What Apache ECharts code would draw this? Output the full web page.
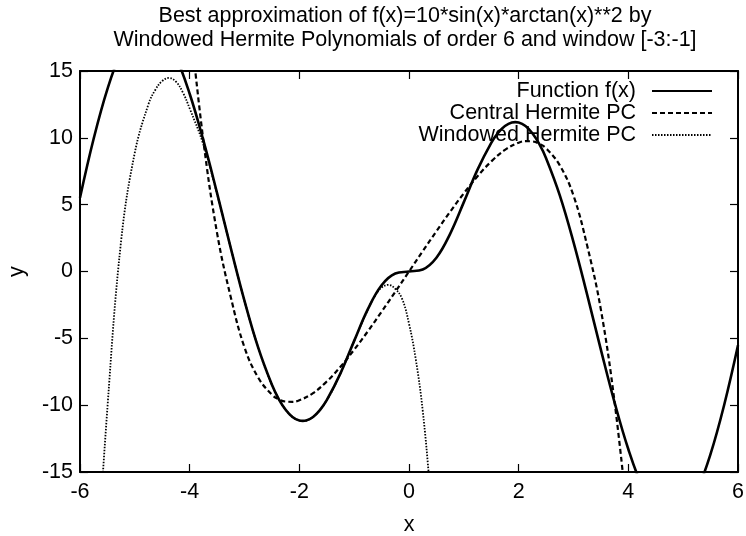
<!DOCTYPE html>
<html>
<head>
<meta charset="utf-8">
<title>Windowed Hermite approximation</title>
<script src="https://cdn.jsdelivr.net/npm/echarts@6/dist/echarts.min.js"></script>
<style>
  html, body { margin: 0; padding: 0; background: #ffffff; }
  #chart { width: 746px; height: 536px; }
</style>
</head>
<body>
<div id="chart"></div>
<script>
// f(x) = 10*sin(x)*arctan(x)**2 sampled on [-6, 6], denser around the extrema
const fX = [-6, -5.75, -5.5, -5.25, -5, -4.75, -4.5, -4.25, -4, -3.75, -3.5, -3.25, -3, -2.75, -2.5, -2.375, -2.25, -2.125, -2, -1.9375, -1.875, -1.75, -1.625, -1.5, -1.25, -1, -0.75, -0.5, -0.25,
  0, 0.25, 0.5, 0.75, 1, 1.25, 1.5, 1.625, 1.75, 1.875, 1.9375, 2, 2.125, 2.25, 2.375, 2.5, 2.75, 3, 3.25, 3.5, 3.75, 4, 4.25, 4.5, 4.75, 5, 5.25, 5.5, 5.75, 6];
const fY = [5.52, 9.95, 13.65, 16.42, 18.09, 18.57, 17.87, 16.06, 13.30, 9.81, 5.86, 1.75, -2.20, -5.70, -8.48, -9.54, -10.34, -10.88, -11.15, -11.175, -11.15, -10.88, -10.37, -9.63, -7.62, -5.19, -2.82, -1.03, -0.15,
  0, 0.15, 1.03, 2.82, 5.19, 7.62, 9.63, 10.37, 10.88, 11.15, 11.175, 11.15, 10.88, 10.34, 9.54, 8.48, 5.70, 2.20, -1.75, -5.86, -9.81, -13.30, -16.06, -17.87, -18.57, -18.09, -16.42, -13.65, -9.95, -5.52];

// Central Hermite polynomial chaos approximation
const centralX = [-4, -3.75, -3.5, -3.25, -3, -2.75, -2.5, -2.375, -2.25, -2.125, -2, -1.75, -1.5, -1.25, -1, -0.75, -0.5, -0.25,
  0, 0.25, 0.5, 0.75, 1, 1.25, 1.5, 1.75, 2, 2.125, 2.25, 2.375, 2.5, 2.75, 3, 3.25, 3.5, 3.75, 4];
const centralY = [18.97, 9.79, 2.87, -1.92, -5.68, -7.94, -9.22, -9.56, -9.73, -9.75, -9.64, -9.10, -8.23, -7.13, -5.85, -4.47, -3.01, -1.52,
  0, 1.52, 3.01, 4.47, 5.85, 7.13, 8.23, 9.10, 9.64, 9.75, 9.73, 9.56, 9.22, 7.94, 5.68, 1.92, -2.87, -9.79, -18.97];

// Windowed Hermite polynomial chaos approximation, window [-3:-1]
const windowedX = [-5.75, -5.5, -5.25, -5, -4.75, -4.625, -4.5, -4.375, -4.25, -4.125, -4, -3.75, -3.5, -3.25, -3, -2.75, -2.5, -2.25, -2, -1.9375, -1.75, -1.5, -1.25, -1,
  -0.75, -0.625, -0.5, -0.375, -0.25, -0.125, 0, 0.125, 0.25, 0.375, 0.5];
const windowedY = [-26, -10.2, 2.3, 8.9, 12.54, 13.6, 14.25, 14.48, 14.2, 13.4, 12.2, 9.5, 5.8, 1.75, -2.20, -5.70, -8.48, -10.34, -11.15, -11.175, -10.88, -9.63, -7.62, -5.19,
  -2.85, -1.85, -1.2, -1.0, -1.3, -2.05, -3.9, -6.6, -10.4, -15.9, -22.5];

const xTicks = [-6, -4, -2, 0, 2, 4, 6];
const yTicks = [-15, -10, -5, 0, 5, 10, 15];

const seriesNames = ['Function f(x)', 'Central Hermite PC', 'Windowed Hermite PC'];
const titleText = 'Best approximation of f(x)=10*sin(x)*arctan(x)**2 by\nWindowed Hermite Polynomials of order 6 and window [-3:-1]';

const FONT = '"Liberation Sans", Arial, Helvetica, sans-serif';
const FS = 21.5;

function pairs(xs, ys) { return xs.map((x, i) => [x, ys[i]]); }

const chart = echarts.init(document.getElementById('chart'), null, { renderer: 'canvas' });

const tickCommon = { show: true, inside: true, length: 8, lineStyle: { color: '#000', width: 1.2 } };
const lineCommon = { show: true, onZero: false, lineStyle: { color: '#000', width: 2 } };

function legendFor(name, top) {
  return {
    data: [name],
    right: 33,
    top: top,
    align: 'right',
    orient: 'horizontal',
    itemWidth: 60,
    itemHeight: 14,
    padding: 0,
    selectedMode: false,
    itemStyle: { color: 'rgba(0,0,0,0)', borderWidth: 0, opacity: 0 },
    textStyle: { fontFamily: FONT, fontSize: FS, color: '#000', padding: [0, 11, 0, 0] }
  };
}

chart.setOption({
  backgroundColor: '#ffffff',
  animation: false,
  title: {
    text: titleText,
    left: 405,
    top: 4,
    textAlign: 'center',
    padding: 0,
    textStyle: { fontFamily: FONT, fontSize: FS, fontWeight: 'normal', color: '#000', lineHeight: 24 }
  },
  legend: [legendFor(seriesNames[0], 80), legendFor(seriesNames[1], 102), legendFor(seriesNames[2], 124)],
  grid: { left: 80, right: 8, top: 71, bottom: 64, show: false, containLabel: false, outerBoundsMode: 'none' },
  xAxis: [
    {
      type: 'value', min: -6, max: 6, interval: 2, position: 'bottom',
      name: 'x', nameLocation: 'middle', nameGap: 42,
      nameTextStyle: { fontFamily: FONT, fontSize: FS, color: '#000' },
      axisLine: lineCommon, axisTick: tickCommon, splitLine: { show: false },
      axisLabel: { fontFamily: FONT, fontSize: FS, color: '#000', margin: 9,
        formatter: v => (xTicks.indexOf(v) >= 0 ? String(v) : '') }
    },
    {
      type: 'value', min: -6, max: 6, interval: 2, position: 'top',
      axisLine: lineCommon, axisTick: tickCommon, splitLine: { show: false }, axisLabel: { show: false }
    }
  ],
  yAxis: [
    {
      type: 'value', min: -15, max: 15, interval: 5, position: 'left',
      name: 'y', nameLocation: 'middle', nameGap: 52,
      nameTextStyle: { fontFamily: FONT, fontSize: FS, color: '#000' },
      axisLine: lineCommon, axisTick: tickCommon, splitLine: { show: false },
      axisLabel: { fontFamily: FONT, fontSize: FS, color: '#000', margin: 7,
        formatter: v => (yTicks.indexOf(v) >= 0 ? String(v) : '') }
    },
    {
      type: 'value', min: -15, max: 15, interval: 5, position: 'right',
      axisLine: lineCommon, axisTick: tickCommon, splitLine: { show: false }, axisLabel: { show: false }
    }
  ],
  series: [
    {
      name: seriesNames[0], type: 'line', data: pairs(fX, fY),
      smooth: 0.4, symbol: 'none', clip: true,
      lineStyle: { color: '#000', width: 2.6, type: 'solid' }, itemStyle: { color: '#000' }
    },
    {
      name: seriesNames[1], type: 'line', data: pairs(centralX, centralY),
      smooth: 0.4, symbol: 'none', clip: true,
      lineStyle: { color: '#000', width: 2.2, type: [5, 3] }, itemStyle: { color: '#000' }
    },
    {
      name: seriesNames[2], type: 'line', data: pairs(windowedX, windowedY),
      smooth: 0.4, symbol: 'none', clip: true,
      lineStyle: { color: '#000', width: 1.8, type: [1.5, 1.5] }, itemStyle: { color: '#000' }
    }
  ]
});
</script>
</body>
</html>
